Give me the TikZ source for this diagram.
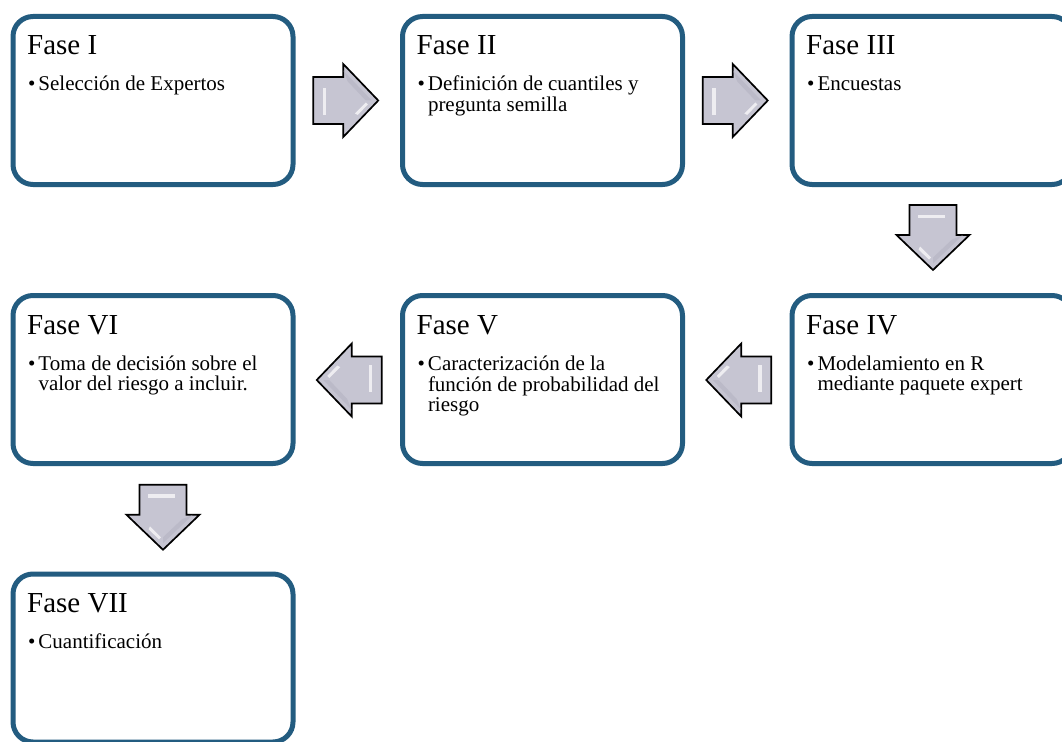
\documentclass[tikz,border=0pt]{standalone}
\usepackage{fontspec}
\setmainfont{Liberation Serif}
\usetikzlibrary{calc}
\definecolor{frameblue}{RGB}{35,92,128}
\definecolor{arrowface}{RGB}{198,197,210}
\definecolor{arrowshade}{RGB}{178,177,192}
\newcommand{\phbullet}{\makebox[10.3pt][l]{\textbullet}}
\newcommand{\phindent}{\hspace*{10.3pt}}
\newcommand{\phlines}[1]{\begin{tabular}[t]{@{}l@{}}#1\end{tabular}}
\begin{document}
\begin{tikzpicture}[x=1pt,y=-1pt,
  phase/.style={draw=frameblue, line width=5pt, rounded corners=20pt,
    minimum width=280pt, minimum height=168pt, inner sep=0pt, fill=white},
  phasetitle/.style={anchor=base west, inner sep=0pt, font=\fontsize{29}{33}\selectfont},
  phaseitem/.style={anchor=base west, inner sep=0pt,
    font=\fontsize{21}{20.8}\selectfont},
  % beveled block arrow pointing right, centred on the origin
  blockarrow/.pic={
    \path[fill=arrowface, draw=black, line width=1.7pt, line join=miter]
      (-32.5,-23.5) -- (-2.5,-23.5) -- (-2.5,-36.5) -- (32.5,0)
      -- (-2.5,36.5) -- (-2.5,23.5) -- (-32.5,23.5) -- cycle;
    \fill[arrowshade, opacity=0.5] (-2.5,-30) -- (26,0) -- (20,0) -- (2,-19) -- cycle;
    \fill[white, opacity=0.7] (-23,-12) rectangle (-19.5,15);
    \fill[white, opacity=0.7] (9,13) -- (20,2) -- (22,4) -- (12,14.5) -- cycle;
  }]
\useasboundingbox (0,0) rectangle (1062,741);
\clip (0,0) rectangle (1062,741);

% phase boxes
\node[phase] (f1) at (153,100.5) {};
\node[phase] (f2) at (542.5,100.5) {};
\node[phase] (f3) at (932,100.5) {};
\node[phase] (f4) at (932,379.5) {};
\node[phase] (f5) at (542.5,379.5) {};
\node[phase] (f6) at (153,379.5) {};
\node[phase] (f7) at (153,658) {};

% titles
\node[phasetitle] (t1) at ($(f1.center)+(-126,-45.5)$) {Fase I};
\node[phasetitle] (t2) at ($(f2.center)+(-126,-45.5)$) {Fase II};
\node[phasetitle] (t3) at ($(f3.center)+(-126,-45.5)$) {Fase III};
\node[phasetitle] (t4) at ($(f4.center)+(-126,-45.5)$) {Fase IV};
\node[phasetitle] (t5) at ($(f5.center)+(-126,-45.5)$) {Fase V};
\node[phasetitle] (t6) at ($(f6.center)+(-126,-45.5)$) {Fase VI};
\node[phasetitle] (t7) at ($(f7.center)+(-126,-45.5)$) {Fase VII};

% bullet texts
\node[phaseitem] (b1) at ($(f1.center)+(-125,-9.5)$) {\phlines{\phbullet Selección de Expertos}};
\node[phaseitem] (b2) at ($(f2.center)+(-125,-9.5)$) {\phlines{\phbullet Definición de cuantiles y\\\phindent pregunta semilla}};
\node[phaseitem] (b3) at ($(f3.center)+(-125,-9.5)$) {\phlines{\phbullet Encuestas}};
\node[phaseitem] (b4) at ($(f4.center)+(-125,-9.5)$) {\phlines{\phbullet Modelamiento en R\\\phindent mediante paquete expert}};
\node[phaseitem] (b5) at ($(f5.center)+(-125,-9.5)$) {\phlines{\phbullet Caracterización de la\\\phindent función de probabilidad del\\\phindent riesgo}};
\node[phaseitem] (b6) at ($(f6.center)+(-125,-9.5)$) {\phlines{\phbullet Toma de decisión sobre el\\\phindent valor del riesgo a incluir.}};
\node[phaseitem] (b7) at ($(f7.center)+(-125,-9.5)$) {\phlines{\phbullet Cuantificación}};

% connecting block arrows
\coordinate (a12) at ($(f1.east)!0.5!(f2.west)+(-2,0)$);
\coordinate (a23) at ($(f2.east)!0.5!(f3.west)+(-2,0)$);
\coordinate (a34) at ($(f3.south)!0.5!(f4.north)+(1,-2.5)$);
\coordinate (a45) at ($(f4.west)!0.5!(f5.east)+(1.5,0.5)$);
\coordinate (a56) at ($(f5.west)!0.5!(f6.east)+(1.5,0.5)$);
\coordinate (a67) at ($(f6.south)!0.5!(f7.north)+(10,-1.5)$);
\pic at (a12) {blockarrow};
\pic at (a23) {blockarrow};
\pic[rotate=-90] at (a34) {blockarrow};
\pic[rotate=180] at (a45) {blockarrow};
\pic[rotate=180] at (a56) {blockarrow};
\pic[rotate=-90] at (a67) {blockarrow};
\end{tikzpicture}
\end{document}
